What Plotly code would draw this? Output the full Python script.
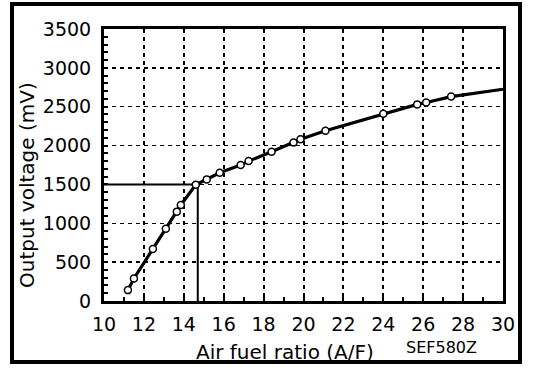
import plotly.graph_objects as go

# Data
af_points = [11.2, 11.5, 12.45, 13.1, 13.65, 13.85, 14.6, 15.15, 15.8, 16.85, 17.25,
             18.4, 19.5, 19.85, 21.1, 24.0, 25.7, 26.15, 27.4]
mv_points = [140, 290, 670, 930, 1150, 1235, 1495, 1565, 1650, 1750, 1800,
             1920, 2040, 2080, 2190, 2410, 2530, 2555, 2630]
af_end = 30
mv_end = 2725
ref_af = 14.7
ref_mv = 1500
x_ticks = [10, 12, 14, 16, 18, 20, 22, 24, 26, 28, 30]
y_ticks = [0, 500, 1000, 1500, 2000, 2500, 3000, 3500]

FONT = "DejaVu Sans"

fig = go.Figure()

# reference lines (stoichiometric point)
fig.add_trace(go.Scatter(
    x=[x_ticks[0], ref_af, ref_af], y=[ref_mv, ref_mv, y_ticks[0]],
    mode="lines", line=dict(color="black", width=2), hoverinfo="skip",
    showlegend=False, cliponaxis=False))

# curve
fig.add_trace(go.Scatter(
    x=af_points + [af_end], y=mv_points + [mv_end],
    mode="lines", line=dict(color="black", width=3.2),
    showlegend=False, cliponaxis=False))

# markers
fig.add_trace(go.Scatter(
    x=af_points, y=mv_points, mode="markers",
    marker=dict(symbol="circle", size=7, color="white",
                line=dict(color="black", width=1.5)),
    showlegend=False, cliponaxis=False))

W, H = 560, 374
# plot area in page pixels: x 104..503, y 29..301
PL, PR, PT, PB = 104, 503, 29, 301
L, T = PL, PT
R = W - PR
B = H - PB
pw, ph = PR - PL, PB - PT

def px_x(p):
    return (p - PL) / pw

def px_y(p):
    return (PB - p) / ph

fig.update_layout(
    width=W, height=H,
    margin=dict(l=L, r=R, t=T, b=B, pad=0),
    paper_bgcolor="white", plot_bgcolor="white",
    font=dict(family=FONT, color="black", size=19),
    xaxis=dict(
        range=[x_ticks[0], x_ticks[-1]], tickmode="array", tickvals=x_ticks,
        showgrid=True, gridcolor="black", gridwidth=2, griddash="4px,4px",
        showline=True, linecolor="black", linewidth=3, mirror=True,
        ticks="inside", ticklen=4, tickwidth=2, tickcolor="black",
        minor=dict(dtick=1, ticks="inside", ticklen=4, tickwidth=2,
                   tickcolor="black", showgrid=False),
        tickfont=dict(family=FONT, size=19), ticklabelstandoff=4,
        zeroline=False, fixedrange=True,
    ),
    yaxis=dict(
        range=[y_ticks[0], y_ticks[-1]], tickmode="array", tickvals=y_ticks,
        showgrid=True, gridcolor="black", gridwidth=1.5, griddash="4px,4px",
        showline=True, linecolor="black", linewidth=3, mirror=True,
        ticks="inside", ticklen=4, tickwidth=2, tickcolor="black",
        minor=dict(dtick=100, ticks="inside", ticklen=4, tickwidth=2,
                   tickcolor="black", showgrid=False),
        tickfont=dict(family=FONT, size=19), ticklabelstandoff=6,
        zeroline=False, fixedrange=True,
    ),
    shapes=[dict(type="rect", xref="paper", yref="paper",
                 x0=px_x(12), x1=px_x(520), y0=px_y(362), y1=px_y(4),
                 line=dict(color="black", width=4), fillcolor="rgba(0,0,0,0)",
                 layer="above")],
    annotations=[
        dict(text="Output voltage (mV)", xref="paper", yref="paper",
             x=px_x(27), y=px_y(185), showarrow=False, textangle=-90,
             font=dict(family=FONT, size=20), xanchor="center", yanchor="middle"),
        dict(text="Air fuel ratio (A/F)", xref="paper", yref="paper",
             x=px_x(285), y=px_y(352), showarrow=False,
             font=dict(family=FONT, size=20), xanchor="center", yanchor="middle"),
        dict(text="SEF580Z", xref="paper", yref="paper",
             x=px_x(441), y=px_y(347), showarrow=False,
             font=dict(family=FONT, size=16), xanchor="center", yanchor="middle"),
    ],
)

fig.write_html("out.html",
               config={"displayModeBar": False, "staticPlot": True},
               post_script="document.body.style.margin='0';"
                           "document.body.style.overflow='hidden';")
